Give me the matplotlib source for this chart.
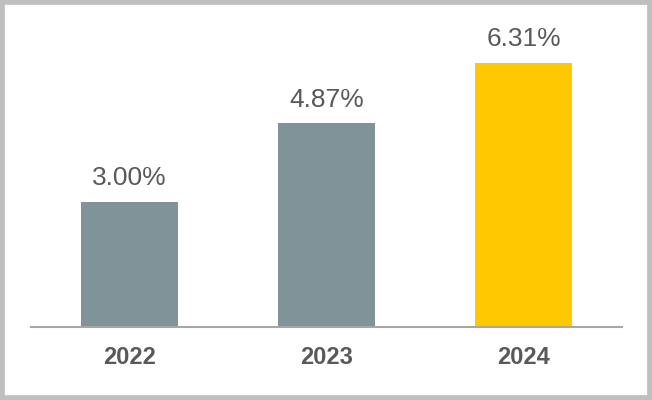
import matplotlib
matplotlib.use("Agg")
import matplotlib.pyplot as plt
from matplotlib.patches import Rectangle

# Du lieu
nam = ["2022", "2023", "2024"]
ty_le = [3.00, 4.87, 6.31]
mau_cot = ["#7F9398", "#7F9398", "#FFC800"]

plt.rcParams['font.family'] = ['Liberation Sans', 'DejaVu Sans']

fig = plt.figure(figsize=(6.52, 4.0), dpi=100)
ax = fig.add_axes([0.0475, 0.1825, 0.9065, 0.784])

vi_tri = range(len(nam))
ax.bar(vi_tri, ty_le, width=0.49, color=mau_cot)

for x, v in zip(vi_tri, ty_le):
    ax.annotate(f"{v:.2f}%", (x, v), xytext=(0, 12), textcoords="offset points",
                ha="center", va="baseline", fontsize=19, color="#595959")

ax.set_xlim(-0.5, 2.5)
ax.set_ylim(0, 7.5)
ax.set_xticks(list(vi_tri))
ax.set_xticklabels(nam, fontsize=17, fontweight="bold", color="#595959")
ax.tick_params(axis="x", length=0, pad=14)
ax.set_yticks([])

for s in ["top", "right", "left"]:
    ax.spines[s].set_visible(False)
ax.spines["bottom"].set_color("#A6A6A6")
ax.spines["bottom"].set_linewidth(1.5)

# Khung vien
fig.patches.append(Rectangle((0, 0), 1, 1, transform=fig.transFigure, fill=False,
                             edgecolor="#BFBFBF", linewidth=7))

fig.savefig("out.png", dpi=100)
